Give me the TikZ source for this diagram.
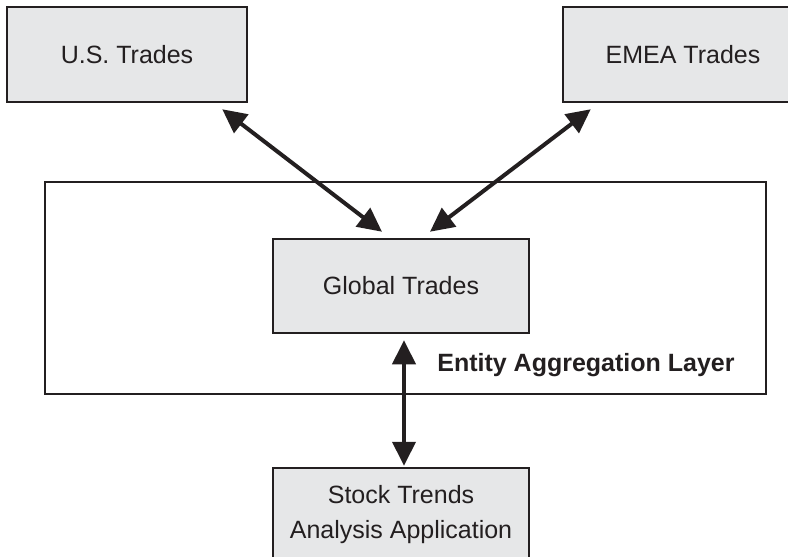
\documentclass[tikz,border=0pt]{standalone}
\usepackage{fontspec}
\setmainfont{Liberation Sans}
\usepackage{tikz}
\usetikzlibrary{arrows.meta,positioning}

\definecolor{inkgray}{HTML}{231F20}
\definecolor{boxgray}{HTML}{E6E7E8}

\tikzset{
  tradebox/.style={draw=inkgray, fill=boxgray, line width=1.25pt, text=inkgray,
    minimum width=120pt, minimum height=47.5pt, inner sep=0pt, align=center,
    font=\fontsize{12.5}{17.5}\selectfont},
  layerbox/.style={draw=inkgray, line width=1pt, minimum width=360.5pt,
    minimum height=106pt, inner sep=0pt},
  dblarrow/.style={{Triangle[length=12pt,width=11.5pt]}-{Triangle[length=12pt,width=11.5pt]},
    line width=2pt, draw=inkgray},
}

\begin{document}
\begin{tikzpicture}[x=0.5pt,y=-0.5pt]
\clip (0,0) rectangle (788,557);

% Layer box
\node[layerbox] (layer) at (405.5,288) {};
\node[text=inkgray, font=\fontsize{12.5}{15}\bfseries\selectfont] (layername) at (586,365) {Entity Aggregation Layer};

% Trade boxes
\node[tradebox] (us) at (127,54.5) {U.S. Trades};
\node[tradebox] (emea) at (683,54.5) {EMEA Trades};
\node[tradebox, minimum width=128pt, minimum height=47pt] (global) at (401,286) {Global Trades};
\node[tradebox, minimum width=128pt, minimum height=47pt] (stock) at (401,515) {Stock Trends\\Analysis Application};

% Arrows
\draw[dblarrow] ([xshift=-13pt,yshift=-3pt]us.south east) -- ([xshift=-9.5pt,yshift=3pt]global.north);
\draw[dblarrow] ([xshift=14.5pt,yshift=-3pt]emea.south west) -- ([xshift=14.5pt,yshift=3pt]global.north);
\draw[dblarrow] ([xshift=1.5pt,yshift=-3pt]global.south) -- ([xshift=1.5pt,yshift=0.5pt]stock.north);
\end{tikzpicture}
\end{document}
